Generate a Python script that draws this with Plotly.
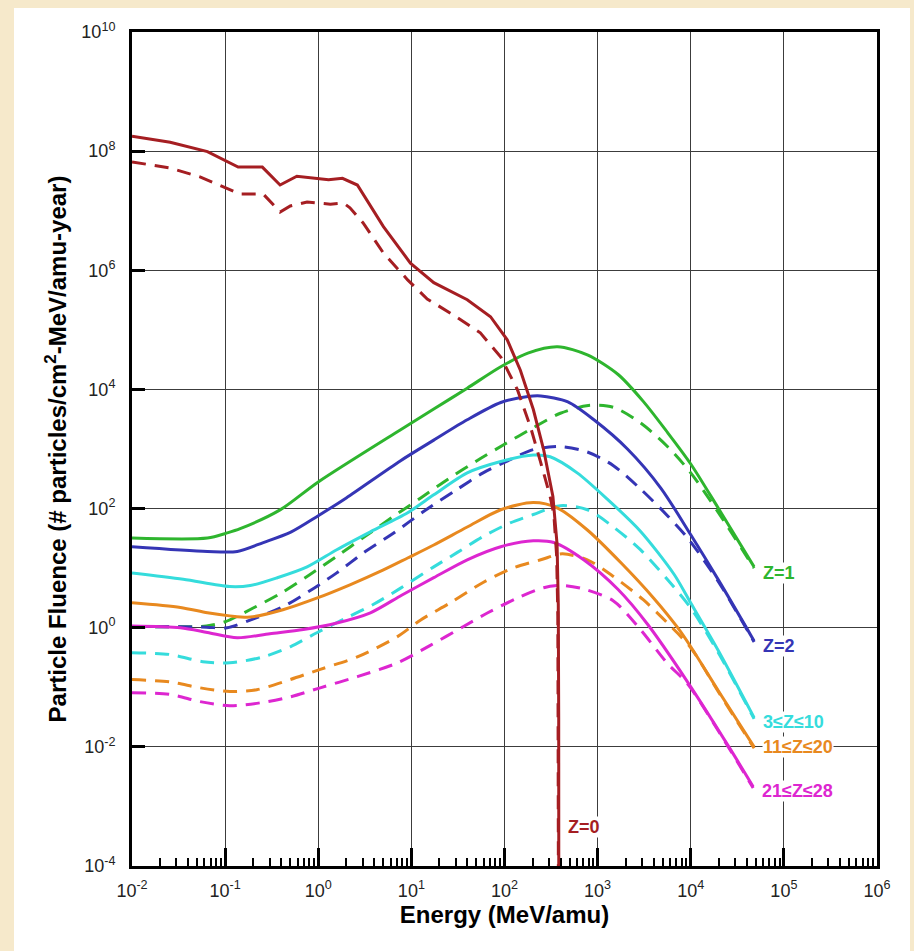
import math
import plotly.graph_objects as go

# ---------------- data ----------------
z0_solid_E = [0.01, 0.0257, 0.0646, 0.138, 0.251, 0.389, 0.589, 1.29, 1.82, 2.63, 5.01, 9.77,
              17.4, 39.8, 70.8, 107, 148, 204, 263, 331, 367, 378, 382, 383]
z0_solid_F = [1.78e8, 1.41e8, 9.8e7, 5.4e7, 5.4e7, 2.7e7, 3.8e7, 3.3e7, 3.5e7, 2.7e7, 5.4e6, 1.32e6,
              6.2e5, 3.2e5, 1.66e5, 6.8e4, 2.1e4, 4.6e3, 980, 160, 25, 2.5, 0.03, 1e-5]

z0_dash_E = [0.01, 0.0257, 0.0537, 0.105, 0.145, 0.257, 0.389, 0.501, 0.759, 1.35, 1.86, 2.19, 3.02,
             5.01, 9.12, 14.8, 28.2, 55, 91.2, 138, 191, 245, 309, 339, 363, 374, 378, 380]
z0_dash_F = [6.6e7, 5.2e7, 3.7e7, 2.4e7, 1.9e7, 1.9e7, 9.5e6, 1.2e7, 1.4e7, 1.29e7, 1.35e7, 1.12e7, 6.3e6,
             1.95e6, 6.9e5, 3.3e5, 1.78e5, 8.9e4, 3.5e4, 9.8e3, 2.3e3, 590, 160, 79, 16, 1.6, 0.03, 1e-5]

z1_solid_E = [0.01, 0.0646, 0.105, 0.145, 0.389, 1, 7.59, 17.4, 39.8, 91.2, 178, 372, 776, 1660,
              3090, 5620, 10000, 19500, 47900]
z1_solid_F = [32, 32, 39, 46, 95, 280, 2090, 4680, 1.05e4, 2.4e4, 4.07e4, 5.2e4, 3.8e4, 1.78e4,
              6.3e3, 1.9e3, 560, 105, 10.5]

z1_dash_E = [0.01, 0.063, 0.1, 0.2, 0.398, 0.794, 1.58, 3.16, 6.31, 12.6, 25.1, 50.1, 100, 200,
             398, 794, 1480, 2880, 5620, 10000, 19500, 47900]
z1_dash_F = [1.05, 1.07, 1.26, 2.14, 3.8, 7.59, 15.8, 33.9, 72.4, 151, 316, 631, 1200, 2240,
             3980, 5370, 5010, 2750, 1100, 398, 89, 10]

z2_solid_E = [0.01, 0.0646, 0.135, 0.257, 0.501, 1, 2.0, 7.59, 17.4, 39.8, 91.2, 178, 245, 479,
              912, 2090, 4790, 10000, 19500, 47900]
z2_solid_F = [22.9, 19.1, 19.1, 26.9, 39.8, 75.9, 151, 631, 1410, 3090, 6030, 7590, 7760, 6170,
              3090, 1000, 219, 36.3, 6.6, 0.6]

z2_dash_E = [0.01, 0.063, 0.105, 0.219, 0.417, 0.813, 1.58, 3.02, 6.46, 13.5, 30.9, 58.9, 115, 204,
             398, 776, 1480, 2880, 5620, 9330, 19500, 47900]
z2_dash_F = [1.05, 1.02, 1.0, 1.48, 2.24, 4.17, 8.32, 17.8, 38.9, 89.1, 209, 398, 661, 977,
             1100, 891, 525, 214, 76, 31.6, 6.17, 0.575]

z3_10_solid_E = [0.01, 0.0355, 0.112, 0.186, 0.363, 0.759, 1.58, 3.63, 9.12, 17.4, 39.8, 91.2, 204,
                 309, 603, 1290, 2880, 6610, 10000, 20000, 47900]
z3_10_solid_F = [8.3, 6.5, 4.9, 5.1, 6.9, 10.5, 20.4, 40.7, 85.1, 170, 398, 617, 794,
                 741, 398, 141, 41.7, 7.9, 2.6, 0.4, 0.031]

z3_10_dash_E = [0.01, 0.0257, 0.0575, 0.112, 0.257, 0.501, 0.977, 2.04, 3.89, 7.59, 17.4, 30.9, 58.9,
                115, 204, 398, 776, 1480, 2880, 5620, 10000, 20000, 47900]
z3_10_dash_F = [0.38, 0.355, 0.269, 0.257, 0.324, 0.479, 0.832, 1.48, 2.45, 4.57, 10.5, 18.2, 33.9,
                57.5, 79.4, 112, 95.5, 49, 20.4, 6.46, 2.14, 0.37, 0.0295]

z11_20_solid_E = [0.01, 0.0331, 0.0646, 0.112, 0.186, 0.417, 0.977, 2.19, 5.01, 9.12, 17.4, 39.8,
                  91.2, 204, 372, 776, 1780, 3980, 7240, 10000, 20000, 47900]
z11_20_solid_F = [2.63, 2.19, 1.78, 1.58, 1.51, 2.0, 3.16, 5.25, 9.33, 14.8, 24.5, 49,
                  95.5, 126, 102, 43.7, 12.3, 3.16, 1.0, 0.479, 0.085, 0.01]

z11_20_dash_E = [0.01, 0.0257, 0.0537, 0.112, 0.219, 0.501, 1.05, 2.63, 7.08, 12.6, 26.3, 58.9, 126,
                 245, 417, 776, 1480, 3090, 5620, 10000, 20000, 47900]
z11_20_dash_F = [0.135, 0.123, 0.098, 0.085, 0.091, 0.135, 0.2, 0.324, 0.708, 1.35, 2.63, 5.75, 10.2,
                 13.8, 17.4, 13.8, 7.24, 2.95, 1.2, 0.46, 0.082, 0.0095]

z21_28_solid_E = [0.01, 0.0331, 0.0646, 0.135, 0.302, 0.692, 1.58, 3.63, 7.94, 17.4, 39.8, 91.2,
                  204, 339, 708, 1660, 3470, 9330, 26900, 46800]
z21_28_solid_F = [1.07, 1.0, 0.832, 0.676, 0.794, 0.933, 1.2, 1.78, 3.55, 6.92, 13.8, 22.9,
                  28.8, 26.9, 13.8, 4.37, 1.12, 0.12, 0.0089, 0.00214]

z21_28_dash_E = [0.01, 0.0257, 0.0537, 0.112, 0.24, 0.501, 1.05, 2.63, 7.08, 15.8, 36.3, 66.1, 138,
                 263, 417, 708, 1480, 2880, 5620, 9330, 26900, 46800]
z21_28_dash_F = [0.081, 0.076, 0.0575, 0.049, 0.055, 0.069, 0.098, 0.151, 0.257, 0.501, 1.05, 1.78, 3.16,
                 4.68, 5.13, 4.47, 2.82, 0.933, 0.251, 0.112, 0.0085, 0.00204]

x_tick_vals = [1e-2, 1e-1, 1e0, 1e1, 1e2, 1e3, 1e4, 1e5, 1e6]
x_tick_labels = ["10<sup>-2</sup>", "10<sup>-1</sup>", "10<sup>0</sup>", "10<sup>1</sup>", "10<sup>2</sup>",
                 "10<sup>3</sup>", "10<sup>4</sup>", "10<sup>5</sup>", "10<sup>6</sup>"]
y_tick_vals = [1e-4, 1e-2, 1e0, 1e2, 1e4, 1e6, 1e8, 1e10]
y_tick_labels = ["10<sup>-4</sup>", "10<sup>-2</sup>", "10<sup>0</sup>", "10<sup>2</sup>", "10<sup>4</sup>",
                 "10<sup>6</sup>", "10<sup>8</sup>", "10<sup>10</sup>"]

series_names = ["Z=1", "Z=2", "3≤Z≤10", "11≤Z≤20", "21≤Z≤28"]
series_colors = ["#2EB52E", "#3535B5", "#35DCDC", "#E8891F", "#DD26D0"]
series_solid = [(z1_solid_E, z1_solid_F), (z2_solid_E, z2_solid_F), (z3_10_solid_E, z3_10_solid_F),
                (z11_20_solid_E, z11_20_solid_F), (z21_28_solid_E, z21_28_solid_F)]
series_dash = [(z1_dash_E, z1_dash_F), (z2_dash_E, z2_dash_F), (z3_10_dash_E, z3_10_dash_F),
               (z11_20_dash_E, z11_20_dash_F), (z21_28_dash_E, z21_28_dash_F)]
label_dy = [-0.11, -0.08, -0.07, -0.01, -0.07]
z0_color = "#A51E22"

# ---------------- figure ----------------
fig = go.Figure()
DASH = "14px,9px"
LW = 3

for name, col, (xs, ys), (xd, yd) in zip(series_names, series_colors, series_solid, series_dash):
    fig.add_trace(go.Scatter(x=xd, y=yd, mode="lines", name=name + " (dashed)",
                             line=dict(color=col, width=LW, dash=DASH, shape="spline", smoothing=0.8)))
    fig.add_trace(go.Scatter(x=xs, y=ys, mode="lines", name=name,
                             line=dict(color=col, width=LW, shape="spline", smoothing=0.8)))

fig.add_trace(go.Scatter(x=z0_dash_E, y=z0_dash_F, mode="lines", name="Z=0 (dashed)",
                         line=dict(color=z0_color, width=LW, dash=DASH)))
fig.add_trace(go.Scatter(x=z0_solid_E, y=z0_solid_F, mode="lines", name="Z=0",
                         line=dict(color=z0_color, width=LW)))

annotations = []
for name, col, (xs, ys), dy in zip(series_names, series_colors, series_solid, label_dy):
    annotations.append(dict(x=math.log10(xs[-1]), y=math.log10(ys[-1]) + dy, xref="x", yref="y",
                            text="<b>" + name + "</b>", showarrow=False, xanchor="left", yanchor="middle",
                            xshift=8, bgcolor="white", borderpad=0,
                            font=dict(family="Liberation Sans", size=18, color=col)))
annotations.append(dict(x=math.log10(z0_solid_E[-1]), y=-3.35, xref="x", yref="y",
                        text="<b>Z=0</b>", showarrow=False, xanchor="left", yanchor="middle",
                        xshift=8, bgcolor="white", borderpad=0,
                        font=dict(family="Liberation Sans", size=18, color=z0_color)))

minor_x = [m * 10.0 ** k for k in range(-2, 6) for m in range(2, 10)]

fig.update_layout(
    width=914, height=951,
    margin=dict(l=132, r=37, t=32, b=85),
    paper_bgcolor="#F6E9CB",
    plot_bgcolor="white",
    showlegend=False,
    annotations=annotations,
    shapes=[dict(type="rect", xref="paper", yref="paper", x0=-0.1584, x1=1.0443, y0=-0.12, y1=1.0288,
                 fillcolor="white", line=dict(width=0), layer="below")],
    xaxis=dict(
        type="log", range=[-2, 6], tickmode="array", tickvals=x_tick_vals, ticktext=x_tick_labels,
        ticks="inside", ticklen=18, tickwidth=3, tickcolor="black",
        showgrid=True, gridcolor="#3c3c3c", gridwidth=1.2,
        showline=True, linewidth=3, linecolor="black", mirror=True,
        minor=dict(tickmode="array", tickvals=minor_x, ticks="inside", ticklen=8, tickwidth=1.5,
                   tickcolor="black", showgrid=False),
        tickfont=dict(family="Liberation Sans", size=18, color="#222"),
        ticklabelstandoff=6, automargin=False,
        title=dict(text="Energy (MeV/amu)", standoff=4,
                   font=dict(family="Liberation Sans", size=24, color="black", weight="bold")),
        zeroline=False,
    ),
    yaxis=dict(
        type="log", range=[-4, 10], tickmode="array", tickvals=y_tick_vals, ticktext=y_tick_labels,
        ticks="inside", ticklen=13, tickwidth=3, tickcolor="black",
        showgrid=True, gridcolor="#3c3c3c", gridwidth=1.2,
        showline=True, linewidth=3, linecolor="black", mirror=True,
        tickfont=dict(family="Liberation Sans", size=18, color="#222"),
        ticklabelstandoff=10, automargin=False,
        title=dict(text="Particle Fluence (# particles/cm<sup>2</sup>-MeV/amu-year)", standoff=8,
                   font=dict(family="Liberation Sans", size=24, color="black", weight="bold")),
        zeroline=False,
    ),
)

fig.write_html("out.html", config={"displayModeBar": False},
               post_script="document.body.style.margin='0';document.body.style.overflow='hidden';")
